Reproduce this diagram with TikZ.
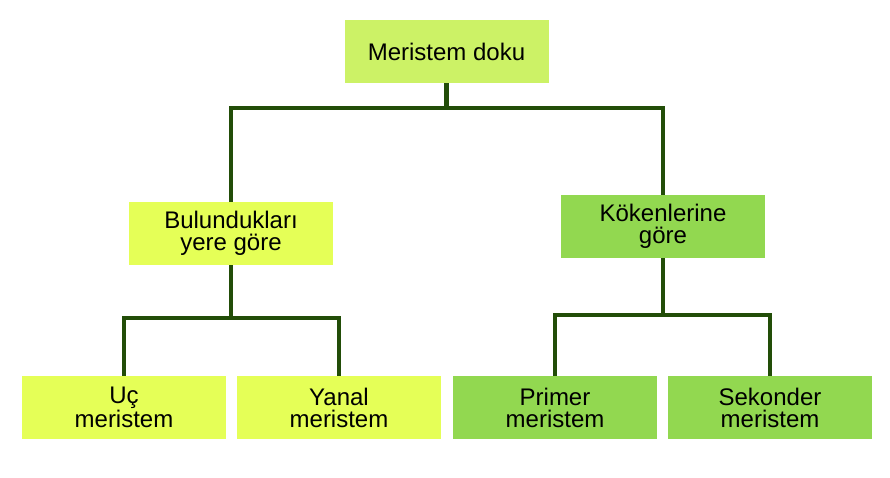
\documentclass[tikz,border=0pt]{standalone}
\usepackage{fontspec}
\setmainfont{Liberation Sans}
\definecolor{rootgreen}{HTML}{CCF266}
\definecolor{lemon}{HTML}{E5FF57}
\definecolor{leaf}{HTML}{92D850}
\definecolor{stem}{HTML}{224D08}
\tikzset{
  box/.style={rectangle, minimum width=204pt, minimum height=63pt, inner sep=0pt,
    align=center, font=\fontsize{24}{22}\selectfont},
  conn/.style={draw=stem, line width=4.5pt}
}

\begin{document}
\begin{tikzpicture}[x=1pt,y=-1pt]
			%%%%% START %%%%%
			
			\useasboundingbox (0,0) rectangle (890,477);
			
			\node[box, fill=rootgreen] (root) at (446.5, 51.5) {Meristem doku};
			
			\node[box, fill=lemon] (bul) at (231, 233.5) {Bulundukları\\yere göre};
			\node[box, fill=leaf] (kok) at (663, 226.5) {Kökenlerine\\göre};
			
			\node[box, fill=lemon] (uc) at (124, 407.5) {Uç\\meristem};
			\node[box, fill=lemon] (yanal) at (339, 407.5) {Yanal\\meristem};
			\node[box, fill=leaf] (primer) at (555, 407.5) {Primer\\meristem};
			\node[box, fill=leaf] (sekonder) at (770, 407.5) {Sekonder\\meristem};
			
			\coordinate (j0) at (446.5, 108);
			\coordinate (j1) at (231, 318);
			\coordinate (j2) at (663, 315);
			
			\draw[conn] (root.south) -- (j0);
			\draw[conn] (bul.north) |- (j0) -| (kok.north);
			
			\draw[conn] (bul.south) -- (j1);
			\draw[conn] (uc.north) |- (j1) -| (yanal.north);
			
			\draw[conn] (kok.south) -- (j2);
			\draw[conn] (primer.north) |- (j2) -| (sekonder.north);
			
			%%%%% END %%%%%
		\end{tikzpicture}
\end{document}
